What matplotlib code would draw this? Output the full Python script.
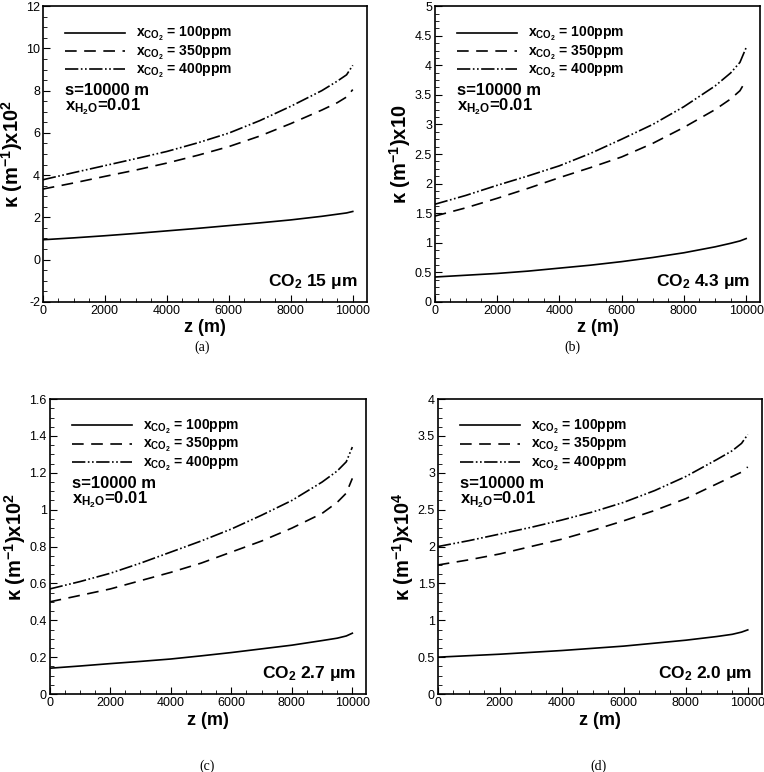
import numpy as np
import matplotlib
matplotlib.use("Agg")
import matplotlib.pyplot as plt
from matplotlib.ticker import MultipleLocator, AutoMinorLocator, FuncFormatter

plt.rcParams['font.family'] = 'Liberation Sans'
plt.rcParams['mathtext.fontset'] = 'custom'
plt.rcParams['mathtext.rm'] = 'Liberation Sans:bold'
plt.rcParams['mathtext.bf'] = 'Liberation Sans:bold'
plt.rcParams['mathtext.it'] = 'Liberation Sans:bold'

# heights z (m)
z = [0, 1000, 2000, 3000, 4000, 5000, 6000, 7000, 8000, 9000, 9500, 9800, 10000]

# (a) CO2 15 um, k x 10^2
a_100 = [0.94, 1.03, 1.13, 1.24, 1.36, 1.48, 1.61, 1.74, 1.88, 2.05, 2.15, 2.21, 2.28]
a_350 = [3.34, 3.63, 3.94, 4.24, 4.57, 4.94, 5.35, 5.85, 6.44, 7.08, 7.43, 7.70, 8.05]
a_400 = [3.78, 4.12, 4.45, 4.78, 5.12, 5.53, 5.99, 6.58, 7.26, 8.00, 8.45, 8.75, 9.20]

# (b) CO2 4.3 um, k x 10
b_100 = [0.42, 0.45, 0.48, 0.52, 0.57, 0.62, 0.68, 0.75, 0.83, 0.93, 0.99, 1.03, 1.07]
b_350 = [1.45, 1.59, 1.75, 1.92, 2.10, 2.27, 2.45, 2.68, 2.95, 3.25, 3.43, 3.57, 3.75]
b_400 = [1.65, 1.80, 1.97, 2.13, 2.30, 2.51, 2.75, 3.00, 3.30, 3.65, 3.87, 4.05, 4.30]

# (c) CO2 2.7 um, k x 10^2
c_100 = [0.140, 0.152, 0.165, 0.177, 0.190, 0.207, 0.225, 0.245, 0.265, 0.290, 0.303, 0.315, 0.330]
c_350 = [0.50, 0.535, 0.57, 0.615, 0.66, 0.71, 0.77, 0.83, 0.90, 0.98, 1.04, 1.09, 1.17]
c_400 = [0.57, 0.61, 0.655, 0.71, 0.77, 0.83, 0.895, 0.97, 1.05, 1.15, 1.21, 1.26, 1.34]

# (d) CO2 2.0 um, k x 10^4
d_100 = [0.50, 0.52, 0.54, 0.565, 0.59, 0.62, 0.65, 0.69, 0.73, 0.78, 0.81, 0.84, 0.87]
d_350 = [1.75, 1.82, 1.90, 2.00, 2.10, 2.22, 2.35, 2.49, 2.65, 2.85, 2.95, 3.01, 3.08]
d_400 = [2.00, 2.08, 2.17, 2.26, 2.36, 2.47, 2.60, 2.76, 2.95, 3.18, 3.30, 3.40, 3.52]

labels = [r"$\mathbf{x_{CO_2}}$ = 100ppm", r"$\mathbf{x_{CO_2}}$ = 350ppm", r"$\mathbf{x_{CO_2}}$ = 400ppm"]
styles = ['-', (0, (7, 4.5)), (0, (8, 1.5, 1, 1.5, 1, 1.5))]

panels = [
    # rect, data, ylim, ystep, ylabel, band, caption, caption pos
    ([0.056, 0.609, 0.424, 0.383], (a_100, a_350, a_400), (-2, 12), 2,
     r"κ (m$^{\mathbf{-1}}$)x10$^{\mathbf{2}}$", r"CO$_{\mathbf{2}}$ 15 μm", "(a)", (0.265, 0.5505)),
    ([0.569, 0.609, 0.426, 0.383], (b_100, b_350, b_400), (0, 5), 0.5,
     r"κ (m$^{\mathbf{-1}}$)x10", r"CO$_{\mathbf{2}}$ 4.3 μm", "(b)", (0.749, 0.5505)),
    ([0.065, 0.101, 0.414, 0.382], (c_100, c_350, c_400), (0, 1.6), 0.2,
     r"κ (m$^{\mathbf{-1}}$)x10$^{\mathbf{2}}$", r"CO$_{\mathbf{2}}$ 2.7 μm", "(c)", (0.271, 0.0075)),
    ([0.573, 0.101, 0.424, 0.382], (d_100, d_350, d_400), (0, 4), 0.5,
     r"κ (m$^{\mathbf{-1}}$)x10$^{\mathbf{4}}$", r"CO$_{\mathbf{2}}$ 2.0 μm", "(d)", (0.783, 0.0075)),
]

fig = plt.figure(figsize=(7.64, 7.72), dpi=100)

for rect, data, ylim, ystep, ylab, band, cap, cpos in panels:
    ax = fig.add_axes(rect)
    for y, ls, lab in zip(data, styles, labels):
        ax.plot(z, y, color='black', linestyle=ls, lw=1.2, label=lab)
    ax.set_xlim(0, 10450)
    ax.set_ylim(*ylim)
    ax.xaxis.set_major_locator(MultipleLocator(2000))
    ax.yaxis.set_major_locator(MultipleLocator(ystep))
    ax.xaxis.set_minor_locator(AutoMinorLocator(4))
    ax.yaxis.set_minor_locator(AutoMinorLocator(4))
    ax.yaxis.set_major_formatter(FuncFormatter(lambda v, p: "%g" % round(v, 6)))
    ax.tick_params(which='both', direction='in', labelsize=9, pad=2)
    ax.tick_params(which='major', length=5)
    ax.tick_params(which='minor', length=3)
    for s in ax.spines.values():
        s.set_linewidth(1.2)
    ax.set_xlabel("z (m)", fontsize=13, fontweight='bold', labelpad=2)
    ax.set_ylabel(ylab, fontsize=14.5, fontweight='bold', labelpad=1)
    ax.legend(loc='upper left', bbox_to_anchor=(0.07, 0.935), frameon=False,
              handlelength=4.3, prop={'size': 10, 'weight': 'bold'},
              labelspacing=0.0, handletextpad=0.8, borderaxespad=0, borderpad=0)
    ax.text(0.07, 0.715, "s=10000 m", transform=ax.transAxes, fontsize=12,
            fontweight='bold', va='center')
    ax.text(0.07, 0.66, r"x$_{\mathbf{H_2O}}$=0.01", transform=ax.transAxes, fontsize=12,
            fontweight='bold', va='center')
    ax.text(0.97, 0.068, band, transform=ax.transAxes, fontsize=12.5,
            fontweight='bold', ha='right', va='center')
    fig.text(cpos[0], cpos[1], cap, fontsize=10, family='Liberation Serif',
             ha='center', va='center')

fig.savefig("out.png", dpi=100)
